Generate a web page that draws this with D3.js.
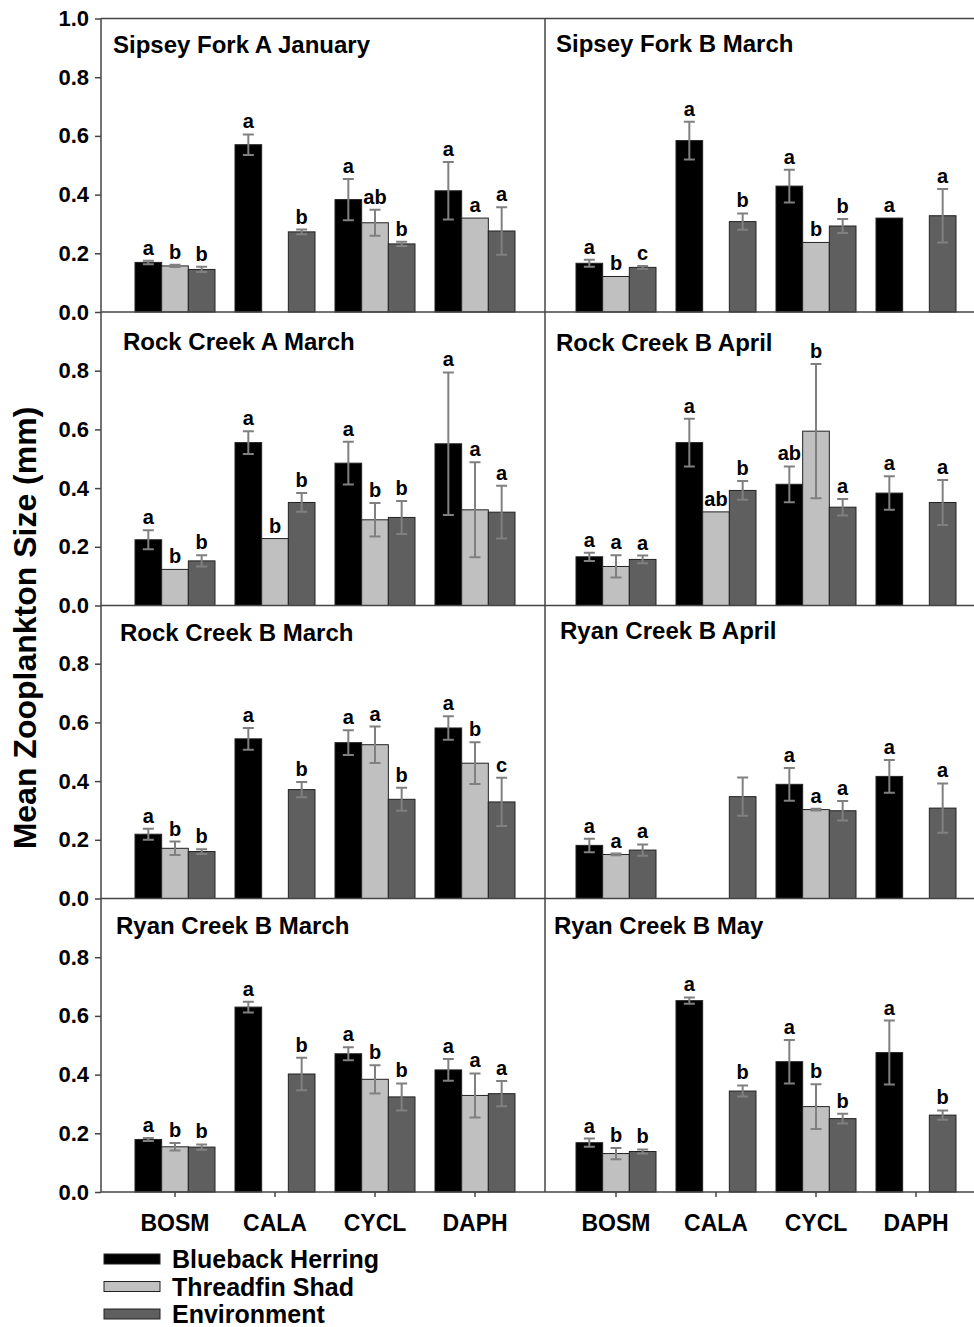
<!DOCTYPE html>
<html>
<head>
<meta charset="utf-8">
<script src="https://cdn.jsdelivr.net/npm/d3@7"></script>
<style>
  body { margin: 0; background: #fff; }
  svg text { font-family: "Liberation Sans", Arial, sans-serif; font-weight: bold; }
</style>
</head>
<body>
<svg id="chart" width="974" height="1327"></svg>
<script>
// ========== Data ==========

const groups = ["BOSM", "CALA", "CYCL", "DAPH"];
const series = ["Blueback Herring", "Threadfin Shad", "Environment"];
const seriesColors = ["#000000", "#c0c0c0", "#5f5f5f"];

const panelTitles = [
    "Sipsey Fork A January", "Sipsey Fork B March",
    "Rock Creek A March", "Rock Creek B April",
    "Rock Creek B March", "Ryan Creek B April",
    "Ryan Creek B March", "Ryan Creek B May"
];

// each row = one group (BOSM, CALA, CYCL, DAPH), columns = series; null = no bar
const sfaJanMean = [[0.169, 0.157, 0.145], [0.570, null, 0.273], [0.383, 0.304, 0.232], [0.413, 0.320, 0.276]];
const sfaJanErr  = [[0.006, 0.004, 0.009], [0.035, null, 0.008], [0.070, 0.044, 0.007], [0.098, null, 0.081]];
const sfaJanSig  = [["a", "b", "b"], ["a", null, "b"], ["a", "ab", "b"], ["a", "a", "a"]];

const sfbMarMean = [[0.166, 0.121, 0.152], [0.584, null, 0.308], [0.429, 0.237, 0.293], [0.320, null, 0.328]];
const sfbMarErr  = [[0.012, null, 0.005], [0.064, null, 0.028], [0.056, null, 0.024], [null, null, 0.091]];
const sfbMarSig  = [["a", "b", "c"], ["a", null, "b"], ["a", "b", "b"], ["a", null, "a"]];

const rcaMarMean = [[0.224, 0.123, 0.152], [0.555, 0.228, 0.351], [0.485, 0.292, 0.300], [0.551, 0.326, 0.318]];
const rcaMarErr  = [[0.032, null, 0.019], [0.039, null, 0.032], [0.073, 0.057, 0.056], [0.243, 0.162, 0.090]];
const rcaMarSig  = [["a", "b", "b"], ["a", "b", "b"], ["a", "b", "b"], ["a", "a", "a"]];

const rcbAprMean = [[0.166, 0.133, 0.157], [0.555, 0.319, 0.392], [0.413, 0.594, 0.335], [0.383, null, 0.351]];
const rcbAprErr  = [[0.014, 0.038, 0.013], [0.081, null, 0.032], [0.061, 0.229, 0.028], [0.057, null, 0.077]];
const rcbAprSig  = [["a", "a", "a"], ["a", "ab", "b"], ["ab", "b", "a"], ["a", null, "a"]];

const rcbMarMean = [[0.219, 0.171, 0.160], [0.544, null, 0.371], [0.531, 0.524, 0.338], [0.581, 0.461, 0.329]];
const rcbMarErr  = [[0.019, 0.023, 0.008], [0.037, null, 0.026], [0.042, 0.062, 0.039], [0.040, 0.071, 0.082]];
const rcbMarSig  = [["a", "b", "b"], ["a", null, "b"], ["a", "a", "b"], ["a", "b", "c"]];

const rybAprMean = [[0.181, 0.150, 0.165], [null, null, 0.347], [0.389, 0.303, 0.299], [0.416, null, 0.308]];
const rybAprErr  = [[0.023, 0.003, 0.019], [null, null, 0.065], [0.056, 0.003, 0.033], [0.056, null, 0.084]];
const rybAprSig  = [["a", "a", "a"], [null, null, null], ["a", "a", "a"], ["a", null, "a"]];

const rybMarMean = [[0.179, 0.154, 0.153], [0.630, null, 0.402], [0.471, 0.384, 0.324], [0.416, 0.329, 0.335]];
const rybMarErr  = [[0.005, 0.013, 0.009], [0.018, null, 0.055], [0.022, 0.048, 0.046], [0.037, 0.075, 0.043]];
const rybMarSig  = [["a", "b", "b"], ["a", null, "b"], ["a", "b", "b"], ["a", "a", "a"]];

const rybMayMean = [[0.168, 0.131, 0.138], [0.652, null, 0.344], [0.444, 0.291, 0.250], [0.475, null, 0.262]];
const rybMayErr  = [[0.014, 0.019, 0.007], [0.011, null, 0.019], [0.074, 0.076, 0.017], [0.109, null, 0.016]];
const rybMaySig  = [["a", "b", "b"], ["a", null, "b"], ["a", "b", "b"], ["a", null, "b"]];

const panelMeans = [sfaJanMean, sfbMarMean, rcaMarMean, rcbAprMean, rcbMarMean, rybAprMean, rybMarMean, rybMayMean];
const panelErrs  = [sfaJanErr, sfbMarErr, rcaMarErr, rcbAprErr, rcbMarErr, rybAprErr, rybMarErr, rybMayErr];
const panelSigs  = [sfaJanSig, sfbMarSig, rcaMarSig, rcbAprSig, rcbMarSig, rybAprSig, rybMarSig, rybMaySig];

const yTicksTop = [0, 0.2, 0.4, 0.6, 0.8, 1.0];
const yTicksRest = [0, 0.2, 0.4, 0.6, 0.8];

// ========== Layout ==========

const svg = d3.select("#chart");
const lineColor = "#444";

const rowZero = [312, 605.5, 898.5, 1192];
const unitPx = 293.5;
const topY = rowZero[0] - unitPx;
const colLeft = [101, 545];
const colRight = 974;
const groupRange = [[125, 525], [566, 966]];
// title position per panel (x, baseline offset from panel top)
const titlePos = [[113, 34], [556, 33], [123, 38], [556, 39], [120, 36], [560, 34], [116, 35], [554, 35]];

const inner = d3.scaleBand().domain(series).range([-40, 40]);

// ========== Frames ==========

svg.append("line")
    .attr("x1", colLeft[0]).attr("x2", colRight)
    .attr("y1", topY).attr("y2", topY)
    .attr("stroke", lineColor).attr("stroke-width", 1.5);

svg.append("line")
    .attr("x1", colLeft[1]).attr("x2", colLeft[1])
    .attr("y1", topY).attr("y2", rowZero[3])
    .attr("stroke", lineColor).attr("stroke-width", 1.5);

// ========== Panels ==========

panelMeans.forEach((means, p) => {
    const row = Math.floor(p / 2), col = p % 2;
    const zero = rowZero[row];

    const x = d3.scaleBand().domain(groups).range(groupRange[col]);
    const y = d3.scaleLinear().domain([0, 1]).range([zero, zero - unitPx]);

    const g = svg.append("g");

    const cells = [];
    means.forEach((vals, gi) => {
        vals.forEach((v, si) => {
            if (v === null) return;
            cells.push({
                group: groups[gi], series: series[si], si: si, value: v,
                err: panelErrs[p][gi][si], sig: panelSigs[p][gi][si]
            });
        });
    });
    const cx = d => x(d.group) + x.bandwidth() / 2 + inner(d.series);

    g.selectAll(".bar")
        .data(cells)
        .join("rect")
        .attr("x", d => cx(d))
        .attr("y", d => y(d.value))
        .attr("width", inner.bandwidth())
        .attr("height", d => zero - y(d.value))
        .attr("fill", d => seriesColors[d.si])
        .attr("stroke", "#222")
        .attr("stroke-width", 1);

    const errCells = cells.filter(d => d.err !== null);
    const mid = d => cx(d) + inner.bandwidth() / 2;

    g.selectAll(".err")
        .data(errCells)
        .join("path")
        .attr("d", d => {
            const m = mid(d), t = y(d.value + d.err), b = y(d.value - d.err);
            return `M${m - 5.5},${t}H${m + 5.5}M${m},${t}V${b}M${m - 5.5},${b}H${m + 5.5}`;
        })
        .attr("fill", "none")
        .attr("stroke", "#808080")
        .attr("stroke-width", 2);

    g.selectAll(".sig")
        .data(cells.filter(d => d.sig))
        .join("text")
        .attr("x", d => mid(d))
        .attr("y", d => y(d.value + (d.err || 0)) - 6)
        .attr("text-anchor", "middle")
        .attr("font-size", 20)
        .text(d => d.sig);

    g.append("text")
        .attr("x", titlePos[p][0])
        .attr("y", zero - unitPx + titlePos[p][1])
        .attr("font-size", 24)
        .text(panelTitles[p]);

    // zero line
    g.append("line")
        .attr("x1", colLeft[col]).attr("x2", col === 0 ? colLeft[1] : colRight)
        .attr("y1", zero).attr("y2", zero)
        .attr("stroke", lineColor).attr("stroke-width", 1.5);

    if (col === 0) {
        const axis = g.append("g")
            .attr("transform", `translate(${colLeft[0]},0)`)
            .call(d3.axisLeft(y)
                .tickValues(row === 0 ? yTicksTop : yTicksRest)
                .tickFormat(d3.format(".1f"))
                .tickSize(6).tickPadding(6));
        axis.select(".domain").remove();
        axis.append("line")
            .attr("y1", zero).attr("y2", zero - unitPx)
            .attr("stroke", lineColor).attr("stroke-width", 1.5);
        axis.selectAll(".tick line").attr("stroke", lineColor).attr("stroke-width", 1.5);
        axis.selectAll(".tick text")
            .attr("font-size", 22)
            .attr("font-weight", "bold")
            .attr("font-family", "Liberation Sans, Arial, sans-serif")
            .attr("fill", "#000");
    }

    if (row === 3) {
        const xa = g.append("g")
            .attr("transform", `translate(0,${zero})`)
            .call(d3.axisBottom(x).tickSize(5).tickPadding(18));
        xa.select(".domain").remove();
        xa.selectAll(".tick line").attr("stroke", lineColor).attr("stroke-width", 1.5);
        xa.selectAll(".tick text")
            .attr("font-size", 23)
            .attr("font-weight", "bold")
            .attr("font-family", "Liberation Sans, Arial, sans-serif")
            .attr("fill", "#000");
    }
});

// ========== Axis title ==========

svg.append("text")
    .attr("transform", `translate(36,628) rotate(-90)`)
    .attr("text-anchor", "middle")
    .attr("font-size", 32)
    .text("Mean Zooplankton Size (mm)");

// ========== Legend ==========

const legendY = d3.scalePoint().domain(series).range([1259, 1314]);

const legend = svg.append("g");
legend.selectAll("rect")
    .data(series)
    .join("rect")
    .attr("x", 104)
    .attr("y", d => legendY(d) - 5)
    .attr("width", 56)
    .attr("height", 10)
    .attr("fill", (d, i) => seriesColors[i])
    .attr("stroke", "#222")
    .attr("stroke-width", 1);

legend.selectAll("text")
    .data(series)
    .join("text")
    .attr("x", 172)
    .attr("y", d => legendY(d) + 9)
    .attr("font-size", 25)
    .text(d => d);
</script>
</body>
</html>
